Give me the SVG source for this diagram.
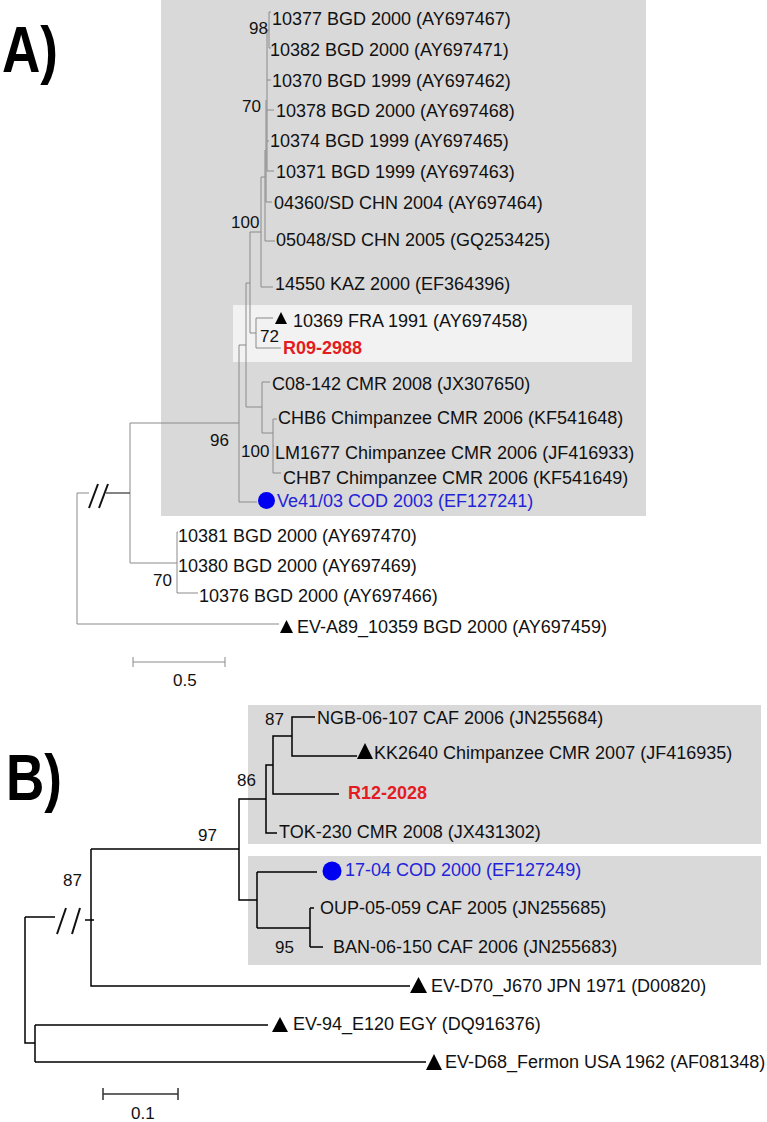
<svg xmlns="http://www.w3.org/2000/svg" width="767" height="1122" viewBox="0 0 767 1122">
<style>
.ta{fill:none;stroke:#8a8a8a;stroke-width:1}
.tb{fill:none;stroke:#000;stroke-width:1.5}
.brk{fill:none;stroke:#111;stroke-width:2}
.lbl{font-family:"Liberation Sans",Arial,sans-serif;font-size:18px;fill:#111}
.bs{font-family:"Liberation Sans",Arial,sans-serif;font-size:17px;fill:#111}
.red{fill:#e31c23;font-weight:bold}
.blue{fill:#2323d8}
.big{font-family:"Liberation Sans",Arial,sans-serif;font-size:64px;font-weight:bold;fill:#000}
.tri{fill:#000}
.dot{fill:#0000f0}
</style>
<rect width="767" height="1122" fill="#fff"/>
<g id="backgrounds">
<rect x="161" y="0" width="485" height="516" fill="#d9d9d9"/>
<rect x="233" y="305" width="399" height="57" fill="#f2f2f2"/>
<rect x="248" y="705" width="513" height="139" fill="#d9d9d9"/>
<rect x="248" y="856" width="513" height="109" fill="#d9d9d9"/>
</g>
<g id="panel-labels">
<text class="big" x="2" y="72" textLength="56" lengthAdjust="spacingAndGlyphs">A)</text>
<text class="big" x="6" y="800" textLength="56" lengthAdjust="spacingAndGlyphs">B)</text>
</g>
<g id="connectors">
<path class="ta" d="M271,12 H269 V48 H271 M269,30 H267 M267,30 V171 M267,80 H271 M267,110 H274 M267,141 H269 M267,171 H274 M266,100 V202 H272 M265,150 V241 H275 M261,177 H265 M261,177 V287 H273 M250,232 H261 M250,232 V333 H256 M256,318 V348 M256,318 H273 M256,348 H281 M246,283 H250 M246,283 V407 M239,345 H246 M246,407 H262 M262,382 V433 M262,382 H270 M262,433 H273 M273,419 V473 M273,419 H277 M273,446 H274 M273,473 H281 M239,345 V502 H257 M130,423 H239 M130,423 V563 H177 M177,532 V593 M177,532 H178 M177,593 H198 M77,493 V624 H279 M77,493 H89"/>
<path class="brk" d="M89,508 L98,484 M99,508 L108,484"/>
<path fill="none" stroke="#333" stroke-width="1.2" d="M106,493 H130"/>
<path class="ta" d="M133,662 H225 M133,657 V667 M225,657 V667"/>
<path class="tb" d="M315,717 H292 V756 H357 M292,736 H273 V794 H339 M273,765 H266 V833 H277 M266,799 H239 V900 H257 M239,849 H91 M257,872 V928 M257,872 H317 M257,928 H310 M310,908 V947 M310,908 H314 M310,947 H323 M91,849 V986 H410 M85,920 H94 M25,917 H55 M25,917 V1043 H35 M35,1025 V1062 M35,1025 H268 M35,1062 H426"/>
<path class="brk" d="M57,934 L66,908 M72,934 L80,908"/>
<path fill="none" stroke="#333" stroke-width="1.5" d="M103,1094 H178 M103,1088 V1100 M178,1088 V1100"/>
</g>
<g id="tree-a-leaves">
<g id="a-10377"><text class="lbl" x="272" y="25">10377 BGD 2000 (AY697467)</text></g>
<g id="a-10382"><text class="lbl" x="270" y="56">10382 BGD 2000 (AY697471)</text></g>
<g id="a-10370"><text class="lbl" x="272" y="87">10370 BGD 1999 (AY697462)</text></g>
<g id="a-10378"><text class="lbl" x="276" y="117">10378 BGD 2000 (AY697468)</text></g>
<g id="a-10374"><text class="lbl" x="270" y="147">10374 BGD 1999 (AY697465)</text></g>
<g id="a-10371"><text class="lbl" x="276" y="178">10371 BGD 1999 (AY697463)</text></g>
<g id="a-04360"><text class="lbl" x="274" y="209">04360/SD CHN 2004 (AY697464)</text></g>
<g id="a-05048"><text class="lbl" x="276" y="246">05048/SD CHN 2005 (GQ253425)</text></g>
<g id="a-14550"><text class="lbl" x="275" y="290">14550 KAZ 2000 (EF364396)</text></g>
<g id="a-10369"><path class="tri" d="M275,324 L287,324 L281,312 Z"/><text class="lbl" x="293" y="327">10369 FRA 1991 (AY697458)</text></g>
<g id="a-R09"><text class="lbl red" x="283" y="354">R09-2988</text></g>
<g id="a-C08"><text class="lbl" x="272" y="390">C08-142 CMR 2008 (JX307650)</text></g>
<g id="a-CHB6"><text class="lbl" x="278" y="424">CHB6 Chimpanzee CMR 2006 (KF541648)</text></g>
<g id="a-LM1677"><text class="lbl" x="275" y="459">LM1677 Chimpanzee CMR 2006 (JF416933)</text></g>
<g id="a-CHB7"><text class="lbl" x="283" y="484">CHB7 Chimpanzee CMR 2006 (KF541649)</text></g>
<g id="a-Ve41"><circle class="dot" cx="266.5" cy="500.5" r="8.5"/><text class="lbl blue" x="277" y="507">Ve41/03 COD 2003 (EF127241)</text></g>
<g id="a-10381"><text class="lbl" x="178" y="542">10381 BGD 2000 (AY697470)</text></g>
<g id="a-10380"><text class="lbl" x="178" y="572">10380 BGD 2000 (AY697469)</text></g>
<g id="a-10376"><text class="lbl" x="199" y="602">10376 BGD 2000 (AY697466)</text></g>
<g id="a-EVA89"><path class="tri" d="M280,633 L293,633 L286.5,620 Z"/><text class="lbl" x="297" y="633">EV-A89_10359 BGD 2000 (AY697459)</text></g>
</g>
<g id="tree-a-support">
<text class="bs" x="249" y="34">98</text>
<text class="bs" x="242" y="112">70</text>
<text class="bs" x="231" y="228">100</text>
<text class="bs" x="260" y="342">72</text>
<text class="bs" x="210" y="446">96</text>
<text class="bs" x="241" y="457">100</text>
<text class="bs" x="153" y="586">70</text>
<text class="bs" x="173" y="686">0.5</text>
</g>
<g id="tree-b-leaves">
<g id="b-NGB"><text class="lbl" x="317" y="724">NGB-06-107 CAF 2006 (JN255684)</text></g>
<g id="b-KK2640"><path class="tri" d="M357,759 L373,759 L365,743 Z"/><text class="lbl" x="374" y="759">KK2640 Chimpanzee CMR 2007 (JF416935)</text></g>
<g id="b-R12"><text class="lbl red" x="348" y="799">R12-2028</text></g>
<g id="b-TOK"><text class="lbl" x="279" y="838">TOK-230 CMR 2008 (JX431302)</text></g>
<g id="b-1704"><circle class="dot" cx="332" cy="871" r="9.5"/><text class="lbl blue" x="345" y="876">17-04 COD 2000 (EF127249)</text></g>
<g id="b-OUP"><text class="lbl" x="320" y="914">OUP-05-059 CAF 2005 (JN255685)</text></g>
<g id="b-BAN"><text class="lbl" x="333" y="953">BAN-06-150 CAF 2006 (JN255683)</text></g>
<g id="b-EVD70"><path class="tri" d="M410,993 L427,993 L418.5,977 Z"/><text class="lbl" x="431" y="992">EV-D70_J670 JPN 1971 (D00820)</text></g>
<g id="b-EV94"><path class="tri" d="M272,1032 L288,1032 L280,1017 Z"/><text class="lbl" x="293" y="1030">EV-94_E120 EGY (DQ916376)</text></g>
<g id="b-EVD68"><path class="tri" d="M426,1070 L442,1070 L434,1054 Z"/><text class="lbl" x="445" y="1068">EV-D68_Fermon USA 1962 (AF081348)</text></g>
</g>
<g id="tree-b-support">
<text class="bs" x="265" y="725">87</text>
<text class="bs" x="237" y="786">86</text>
<text class="bs" x="198" y="841">97</text>
<text class="bs" x="63" y="886">87</text>
<text class="bs" x="275" y="953">95</text>
<text class="bs" x="131" y="1119">0.1</text>
</g>
</svg>
